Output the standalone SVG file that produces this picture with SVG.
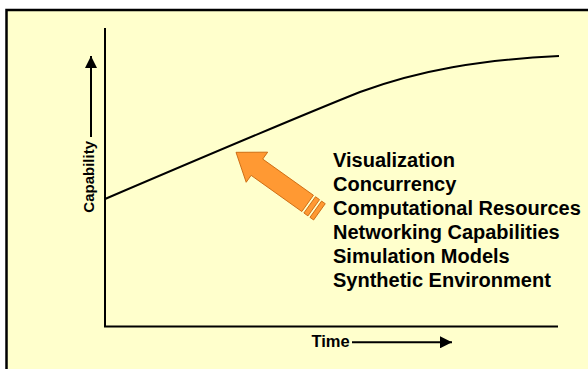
<svg xmlns="http://www.w3.org/2000/svg" width="588" height="369" viewBox="0 0 588 369">
<style>
.ax{stroke:#000;stroke-width:2;fill:none}
.lbl{font-family:"Liberation Sans",Arial,sans-serif;font-weight:bold;fill:#000}
.item{font-family:"Liberation Sans",Arial,sans-serif;font-weight:bold;font-size:20px;fill:#000}
.or{fill:#FF9933;stroke:#C8640A;stroke-width:0.8}
</style>
<defs>
<marker id="ah" viewBox="0 0 12 12" refX="12" refY="6" markerWidth="12" markerHeight="12" markerUnits="userSpaceOnUse" orient="auto">
<path d="M0,0 L12,6 L0,12 Z" fill="#000"/>
</marker>
</defs>
<rect x="0" y="0" width="588" height="369" fill="#fff"/>
<rect id="frame" x="6.5" y="10" width="600" height="400" fill="#FFFFCC" stroke="#000" stroke-width="2.5"/>
<g id="connectors">
<path class="ax" d="M105,28 V326.5 H558"/>
<path id="curve" class="ax" d="M105,199 C250,137 310,112 360,92 C420,70 480,60 559,56"/>
<line class="ax" x1="91" y1="137" x2="91" y2="56" marker-end="url(#ah)"/>
<line class="ax" x1="352" y1="342.3" x2="452" y2="342.3" marker-end="url(#ah)"/>
</g>
<g id="ylabel"><text class="lbl" font-size="15" transform="translate(93.5,212.7) rotate(-90)">Capability</text></g>
<g id="xlabel"><text class="lbl" font-size="16.5" x="311.5" y="347.3">Time</text></g>
<g id="bigarrow" transform="translate(236,152.3) rotate(35.5)">
<path class="or" d="M0,0 L25.7,-18.5 L25.7,-10 L88,-10 L88,10 L25.7,10 L25.7,18.5 Z"/>
<rect class="or" x="90.5" y="-10" width="5" height="20"/>
<rect class="or" x="98" y="-10" width="4.5" height="20"/>
</g>
<g id="list">
<text class="item" x="333" y="167">Visualization</text>
<text class="item" x="333" y="191">Concurrency</text>
<text class="item" x="333" y="215">Computational Resources</text>
<text class="item" x="333" y="239">Networking Capabilities</text>
<text class="item" x="333" y="263">Simulation Models</text>
<text class="item" x="333" y="287">Synthetic Environment</text>
</g>
</svg>
